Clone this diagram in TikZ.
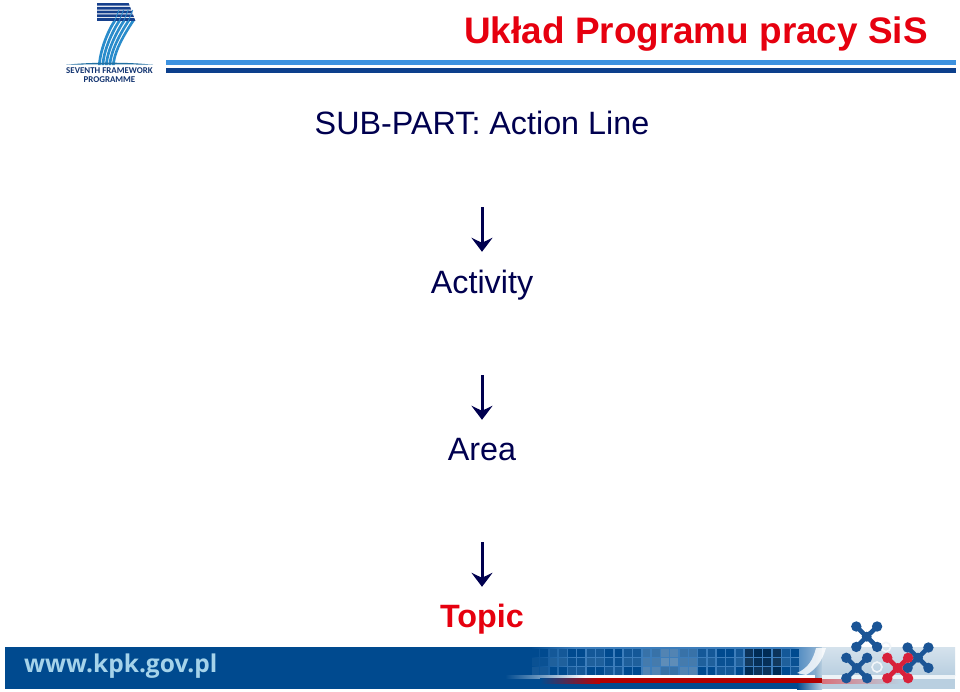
\documentclass[tikz,border=0pt]{standalone}
\usepackage{fontspec}
\setmainfont{Liberation Sans}
\newfontfamily\logofont{Carlito}
\newfontfamily\urlfont{Open Sans}
\usetikzlibrary{arrows.meta}
\definecolor{navy}{HTML}{00004F}
\definecolor{redt}{HTML}{E6000F}
\definecolor{band}{HTML}{004A8F}
\definecolor{lblue}{HTML}{3D92E0}
\definecolor{dblue}{HTML}{0C3F8C}
\definecolor{logob}{HTML}{16408C}
\definecolor{logos}{HTML}{2A8CCB}
\definecolor{pale}{HTML}{B9CFE0}
\definecolor{mol}{HTML}{1B5596}
\definecolor{molr}{HTML}{D8213A}
\definecolor{urlc}{HTML}{A5D3EA}
\definecolor{gridl}{HTML}{3C7DBB}
\tikzset{
 lvl/.style={font=\fontsize{32.3}{33}\selectfont,text=navy,inner sep=0pt,text height=24pt,text depth=7pt,anchor=base},
 arr/.style={draw=navy,line width=3pt,-{Stealth[length=14pt,width=21pt,inset=5pt]}},
 molecule/.pic={
   \draw[line width=4.6pt,draw=#1] (-10.4,-10.2)--(10.4,10.2) (-10.4,10.2)--(10.4,-10.2);
   \fill[#1] (0,0) circle (5);
   \foreach \a/\b in {-10.4/-10.2,10.4/-10.2,-10.4/10.2,10.4/10.2} \fill[#1] (\a,\b) circle (5.2);
 },
}
\begin{document}
\begin{tikzpicture}[x=1pt,y=-1pt]
\useasboundingbox (0,0) rectangle (960,691);
\fill[white] (0,0) rectangle (960,691);
% header rules
\fill[lblue] (166,60) rectangle (956,64.5);
\fill[dblue] (166,68) rectangle (956,72.5);
% logo
\foreach \y in {3,6.8,10.6,14.4,18.2} \fill[logob] (97,\y) -- (127.5+\y*0.38,\y) -- (128.5+\y*0.38,\y+2.7) -- (97,\y+2.7) -- cycle;
\foreach \a/\b in {113/98,117.6/101.5,122.2/105,126.8/108.5,131.4/112}
  \fill[logos] (\a,21) .. controls (\a-7,32) and (\b+1,50) .. (\b,65) -- (\b+2.7,65) .. controls (\b+3.7,50) and (\a-4,32) .. (\a+3.2,21) -- cycle;
\foreach \a/\b in {113/98,117.6/101.5,122.2/105,126.8/108.5}
  \draw[logos,line width=0.8pt] (\a+6,10) -- (\a+1.5,21);
\fill[logos!80!black] (66,64.8) .. controls (90,62) and (130,62) .. (153,64.8) .. controls (130,64.2) and (90,64.2) .. (66,64.8) -- cycle;
\node[inner sep=0pt,font=\logofont\bfseries\fontsize{8.9}{9}\selectfont,text=logob!80!black] (logoa) at (109.5,71) {SEVENTH FRAMEWORK};
\node[inner sep=0pt,font=\logofont\bfseries\fontsize{8.9}{9}\selectfont,text=logob!80!black] (logob) at (109.5,79.5) {PROGRAMME};
% texts
\node[inner sep=0pt,anchor=base east,font=\bfseries\fontsize{36.9}{37}\selectfont,text=redt] (title) at (928,43) {Układ Programu pracy SiS};
\node[lvl] (sub) at (482,134) {SUB-PART: Action Line};
\node[lvl] (act) at (482,293) {Activity};
\node[lvl] (area) at (482,460) {Area};
\node[lvl,font=\bfseries\fontsize{32.3}{33}\selectfont,text=redt] (topic) at (482,627) {Topic};
\draw[arr,shorten <=66pt,shorten >=17pt] (sub.south) -- (act.north);
\draw[arr,shorten <=75pt,shorten >=16pt] (act.south) -- (area.north);
\draw[arr,shorten <=75pt,shorten >=16pt] (area.south) -- (topic.north);
% footer band
\fill[band] (5,647) rectangle (800,689);
\shade[left color=band,right color=pale] (797,647) rectangle (822,689);
\fill[pale] (822,647) rectangle (955,689);
\shade[top color=pale!60!white,bottom color=pale] (822,647) rectangle (955,675);
% grid
\shade[left color=band,right color=gridl] (530,647) rectangle (575,675);
\fill[gridl] (575,647) rectangle (800,675);
\shade[left color=gridl,right color=pale!60!gridl] (790,647) rectangle (815,675);
\foreach \i in {0,...,28} \foreach \r in {0,1,2}{
  \pgfmathsetmacro{\xx}{530+\i*9.3}
  \pgfmathsetmacro{\yy}{648+\r*9.1}
  \pgfmathtruncatemacro{\m}{mod(\i*7+\r*5+\i*\i,4)}
  \pgfmathsetmacro{\tone}{(\i>11&&\i<18)?(22+\m*5):(\m*4)}
  \pgfmathsetmacro{\dk}{(\i>22&&\i<27)?45:0}
  \fill[white!\tone!band,fill opacity=1] (\xx+0.9,\yy+0.9) rectangle (\xx+8.7,\yy+8.5);
  \ifdim\dk pt>0pt \fill[black,fill opacity=0.4] (\xx+0.9,\yy+0.9) rectangle (\xx+8.7,\yy+8.5); \fi
}
\fill[band] (525,647) rectangle (532,675);
% stripes
\shade[left color=band,right color=white] (505,675) rectangle (585,678);
\fill[white] (585,675) rectangle (815,678);
\shade[left color=band,right color=red!75!black] (540,678) rectangle (600,683);
\fill[red!70!black] (600,678) rectangle (825,683);
\fill[white!75!pale] (822,675) rectangle (955,679);
\shade[left color=red!45!pale,right color=pale] (822,679) rectangle (900,683);
% swoosh
\fill[white,fill opacity=0.8] (797,673) .. controls (808,668) and (813,660) .. (816,648) -- (826,648) .. controls (822,662) and (815,670) .. (806,675) -- cycle;
% molecules
\draw[white!80!pale,line width=1.6pt] (886,647) circle (4.6) (877,667) circle (5);
\pic at (866.7,636.7) {molecule=mol};
\pic at (856.7,668) {molecule=mol};
\pic at (918,657.7) {molecule=mol};
\pic at (897.7,668) {molecule=molr};
% footer url
\node[inner sep=0pt,anchor=base west,font=\urlfont\bfseries\fontsize{24.5}{25}\selectfont,text=urlc] (url) at (24,672) {www.kpk.gov.pl};
\end{tikzpicture}
\end{document}
